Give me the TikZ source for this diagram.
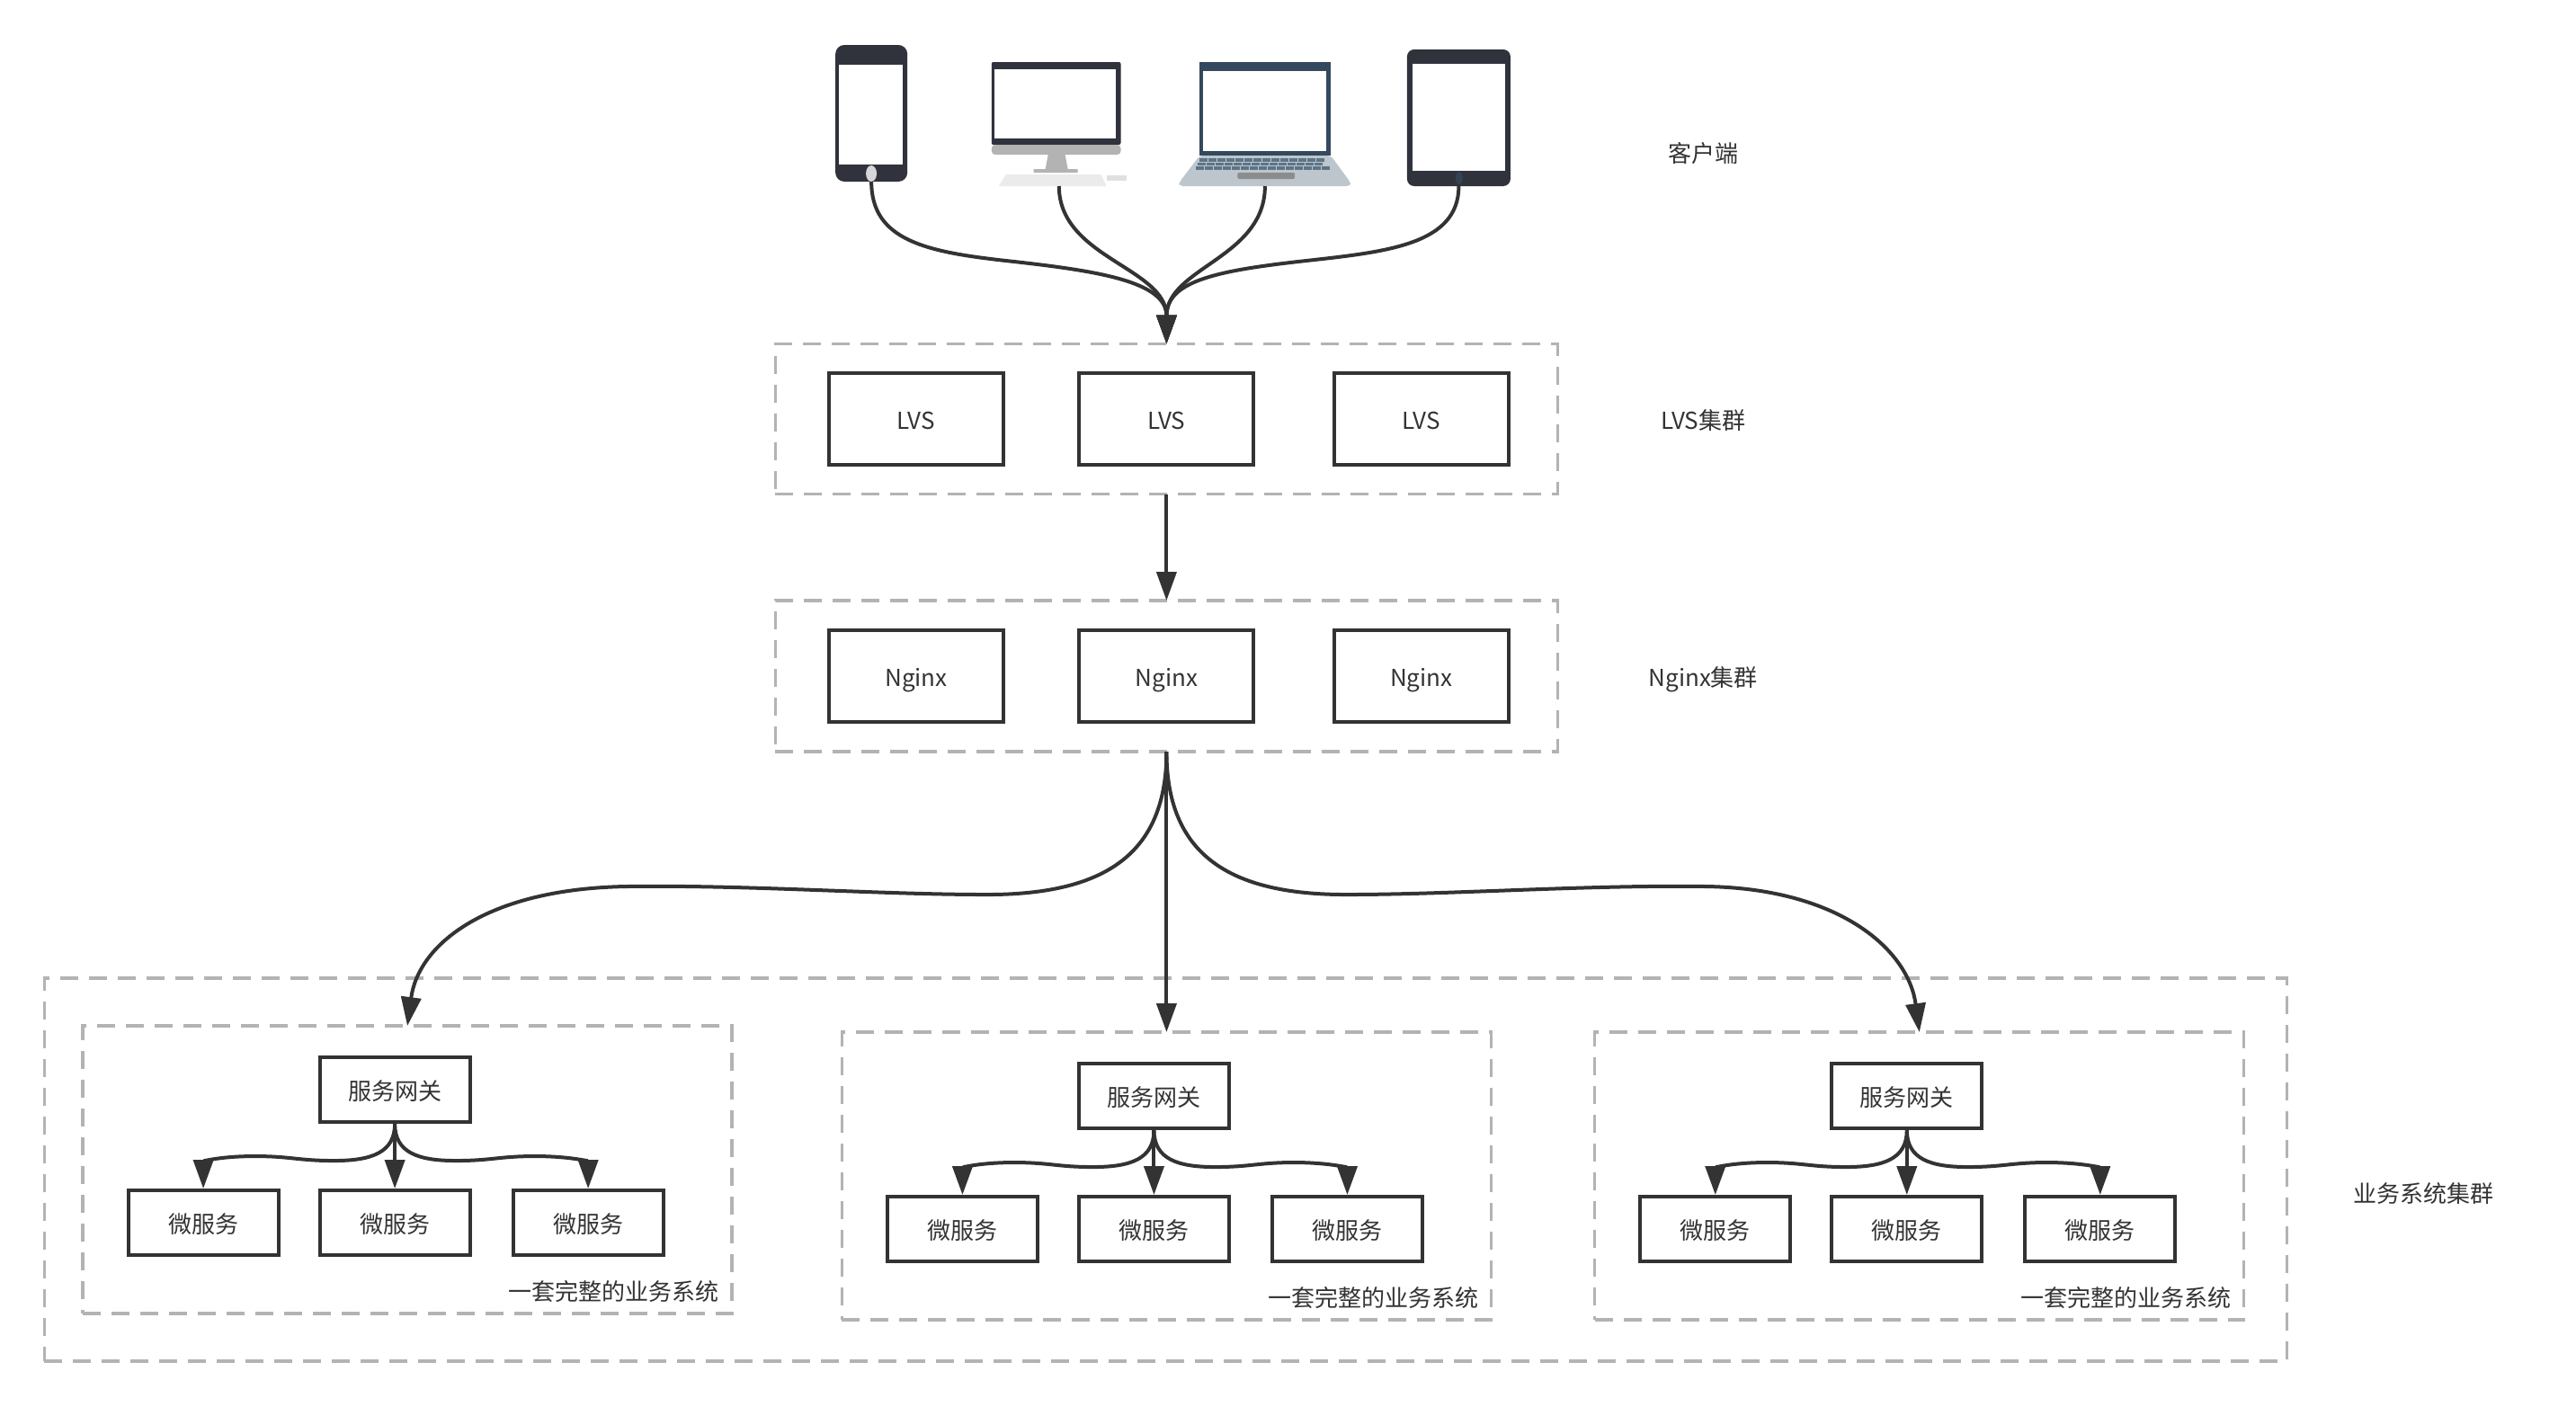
\documentclass[tikz,border=0pt]{standalone}
\usepackage{fontspec}
\setmainfont{Noto Sans CJK SC}
\usetikzlibrary{positioning,arrows.meta}
\definecolor{linegray}{HTML}{333333}
\definecolor{dashgray}{HTML}{B3B3B3}
\definecolor{phonedark}{HTML}{30323C}
\definecolor{laptopblue}{HTML}{34495E}
\definecolor{laptopbase}{HTML}{BCC6CC}
\definecolor{laptopkey}{HTML}{5E7487}
\tikzset{
  my text/.style={font=\fontsize{13pt}{16pt}\selectfont,text=linegray,text height=13pt,text depth=1.5pt},
  my box/.style={draw=linegray,line width=2pt,fill=white,my text,inner sep=0pt,minimum width=97pt,minimum height=51pt},
  my small box/.style={my box,minimum width=83.5pt,minimum height=36pt},
  my group/.style={draw=dashgray,line width=1.7pt,dash pattern=on 10pt off 6pt,inner sep=0pt,outer sep=0pt},
  my arrow/.style={draw=linegray,line width=2pt,-{Triangle[length=16pt,width=11pt]}},
  my device/.style={inner sep=0pt,outer sep=0pt,anchor=north west}
}
\begin{document}
\begin{tikzpicture}[x=0.499pt,y=-0.5pt]
\useasboundingbox (0,0) rectangle (2870.7,1564);
% dashed groups
\node[my group,minimum width=435pt,minimum height=83.5pt] (lvsgroup) at (1300,466) {};
\node[my group,minimum width=435pt,minimum height=84pt] (nginxgroup) at (1300,752) {};
\node[my group,minimum width=1247pt,minimum height=213pt] (allgroup) at (1299,1301) {};
% devices
\node[my device,minimum width=40pt,minimum height=76pt,fill=phonedark,rounded corners=5pt] (phone) at (931,50) {};
\fill[white] (935,72) rectangle (1006,183);
\fill[white!80!phonedark] (971,193) ellipse (6 and 9);
\node[my device,minimum width=75pt,minimum height=69pt] (desktop) at (1105,69) {};
\fill[phonedark,rounded corners=1pt] (1105,69) rectangle (1249,161);
\fill[white] (1108,77) rectangle (1243,154);
\fill[dashgray,rounded corners=2pt] (1105,161) rectangle (1249,172);
\fill[dashgray] (1168,172) -- (1187,172) -- (1190,188) -- (1201,188) -- (1201,192) -- (1152,192) -- (1152,188) -- (1165,188) -- cycle;
\fill[black!8] (1121,194) -- (1227,194) -- (1233,207) -- (1113,207) -- cycle;
\fill[black!12] (1233,195) rectangle (1255,201);
\node[my device,minimum width=95.5pt,minimum height=69pt] (laptop) at (1314,69) {};
\fill[laptopblue] (1337,69) rectangle (1483,173);
\fill[white] (1341,79) rectangle (1478,168);
\fill[laptopbase,rounded corners=2pt] (1337,173) -- (1483,173) -- (1505,203) -- (1505,207) -- (1314,207) -- (1314,203) -- cycle;
\foreach \row/\left/\keys in {176/1337/14,180.5/1335/14,185/1333/15}
  \foreach \k in {1,...,\keys}
    \fill[laptopkey] (\left+10*\k-10,\row) rectangle ++(8.5,3.5);
\fill[black!45,rounded corners=1pt] (1379,192) rectangle (1443,199);
\node[my device,minimum width=57.5pt,minimum height=76pt,fill=phonedark,rounded corners=4pt] (tablet) at (1568,55) {};
\fill[white] (1574,71) rectangle (1677,190);
\fill[laptopblue!70!phonedark] (1626,198) ellipse (4 and 7);
% lvs and nginx nodes
\node[my box] (lvs2) at (1300,466) {LVS};
\node[my box,left=40.2pt of lvs2] (lvs1) {LVS};
\node[my box,right=42.7pt of lvs2] (lvs3) {LVS};
\node[my box] (nginx2) at (1300,752) {Nginx};
\node[my box,left=40.2pt of nginx2] (nginx1) {Nginx};
\node[my box,right=42.7pt of nginx2] (nginx3) {Nginx};
% right labels
\node[my text] (clientlabel) at (1898,169) {客户端};
\node[my text] (lvslabel) at (1898,466) {LVS集群};
\node[my text] (nginxlabel) at (1898,752) {Nginx集群};
\node[my text] (alllabel) at (2701,1326) {业务系统集群};
% one system per column
\foreach \i/\dx/\dy in {1/0/0,2/846/7,3/1685/7}{
  \node[my group,minimum width=361pt,minimum height=160pt] (sys\i) at (454+\dx,1301+\dy) {};
  \node[my small box] (gw\i) at (440+\dx,1212+\dy) {服务网关};
  \node[my small box,below=36pt of gw\i] (msb\i) {微服务};
  \node[my small box,left=21pt of msb\i] (msa\i) {微服务};
  \node[my small box,right=22pt of msb\i] (msc\i) {微服务};
  \node[my text,anchor=south east,inner sep=0pt] (syslabel\i) at ([xshift=-7pt,yshift=5.7pt]sys\i.south east) {一套完整的业务系统};
  \draw[my arrow] (gw\i.south) .. controls +(0,32) and +(42,0) .. ++(-68,41) .. controls +(-40,0) and +(40,0) .. ++(-88,-5) .. controls +(-40,0) and +(0,-30) .. (msa\i.north);
  \draw[my arrow] (gw\i.south) -- (msb\i.north);
  \draw[my arrow] (gw\i.south) .. controls +(0,32) and +(-42,0) .. ++(68,41) .. controls +(40,0) and +(-40,0) .. ++(88,-5) .. controls +(40,0) and +(0,-30) .. (msc\i.north);
}
% connectors
\draw[my arrow] (phone.south) .. controls +(0,65) and +(-90,-10) .. ++(150,88) .. controls +(100,11) and +(0,-70) .. (lvsgroup.north);
\draw[my arrow] (desktop.south) .. controls +(0,80) and +(0,-85) .. (lvsgroup.north);
\draw[my arrow] (laptop.south) .. controls +(0,80) and +(0,-85) .. (lvsgroup.north);
\draw[my arrow] (tablet.south) .. controls +(0,65) and +(90,-10) .. ++(-170,83) .. controls +(-100,11) and +(0,-70) .. (lvsgroup.north);
\draw[my arrow] (lvsgroup.south) -- (nginxgroup.north);
\draw[my arrow] (nginxgroup.south) .. controls +(0,114) and +(131,0) .. ++(-200,159) .. controls +(-120,0) and +(134,-2) .. ++(-403,-9) .. controls +(-156,3) and +(12,-90) .. (sys1.north);
\draw[my arrow] (nginxgroup.south) -- (sys2.north);
\draw[my arrow] (nginxgroup.south) .. controls +(0,114) and +(-131,0) .. ++(200,159) .. controls +(120,0) and +(-134,-2) .. ++(403,-9) .. controls +(150,3) and +(-12,-90) .. (sys3.north);
\end{tikzpicture}
\end{document}
